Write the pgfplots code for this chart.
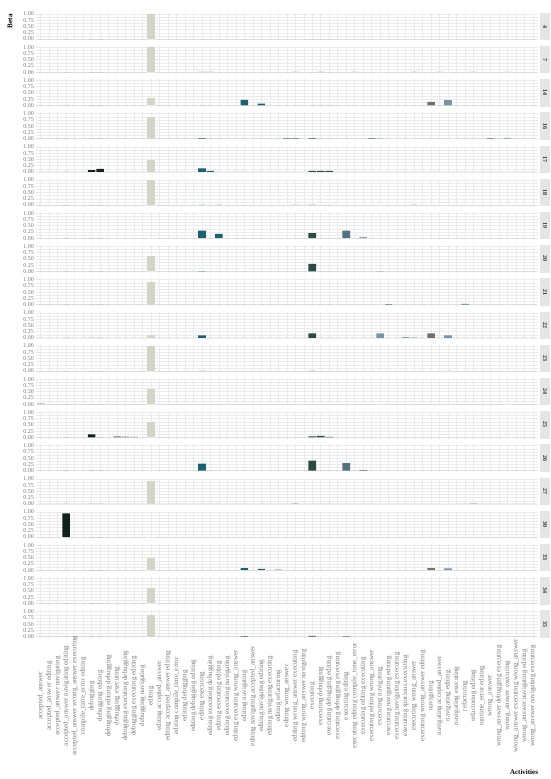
\documentclass[border=0pt]{standalone}
\usepackage{fontspec}
\setmainfont{Liberation Serif}
\usepackage{pgfplots}
\pgfplotsset{compat=1.18}
\usepackage{pgfplotstable}
\usepgfplotslibrary{groupplots}

\definecolor{gridc}{RGB}{235,235,235}
\definecolor{stripc}{RGB}{229,229,229}
\definecolor{labc}{RGB}{120,120,120}
\definecolor{cEdit}{RGB}{211,213,199}
\definecolor{cTeal}{RGB}{30,96,112}
\definecolor{cDark}{RGB}{18,32,28}
\definecolor{cSlate}{RGB}{42,74,68}
\definecolor{cBlue}{RGB}{82,112,126}
\definecolor{cGray}{RGB}{104,114,118}
\definecolor{cSteel}{RGB}{118,148,164}

% one row per activity; grp = colour group; one column per facet
\pgfplotstableread{
idx grp p4 p7 p14 p16 p17 p18 p19 p20 p21 p22 p23 p24 p25 p26 p27 p30 p33 p34 p35
0 5 0 0 0 0 0 0 0 0 0 0 0 0.02 0 0 0 0 0 0 0
1 5 0 0 0 0 0 0 0 0 0 0 0 0 0 0 0 0 0 0 0
2 5 0 0 0 0 0 0 0 0 0 0 0 0 0 0 0 0 0 0 0
3 3 0 0 0 0 0 0 0 0 0 0 0 0 0 0 0 0.95 0 0 0
4 5 0 0 0 0 0 0 0 0 0 0 0 0 0 0 0 0 0 0 0
5 5 0 0 0 0 0 0 0 0 0 0 0 0 0 0 0 0 0 0 0
6 3 0 0 0 0 0.07 0 0 0 0 0 0 0 0.12 0 0 0 0 0 0
7 3 0 0 0 0 0.12 0 0 0 0 0 0 0 0 0 0 0 0 0 0
8 5 0 0 0 0 0 0 0 0 0 0 0 0 0 0 0 0 0 0 0
9 6 0 0 0 0 0 0 0 0 0 0 0 0 0.04 0 0 0 0 0 0
10 6 0 0 0 0 0 0 0 0 0 0 0 0 0.03 0 0 0 0 0 0
11 6 0 0 0 0 0 0 0 0 0 0 0 0 0.02 0 0 0 0 0 0
12 5 0 0 0 0 0 0 0 0 0 0 0 0 0 0 0 0 0 0 0
13 1 1 1 0.30 0.87 0.49 1 0 0.6 0.9 0.12 1 0.6 0.6 0 0.9 0 0.5 0.6 0.85
14 5 0 0 0 0 0 0 0 0 0 0 0 0 0 0 0 0 0 0 0
15 5 0 0 0 0 0 0 0 0 0 0 0 0 0 0 0 0 0 0 0
16 5 0 0 0 0 0 0 0 0 0 0 0 0 0 0 0 0 0 0 0
17 5 0 0 0 0 0 0 0 0 0 0 0 0 0 0 0 0 0 0 0
18 5 0 0 0 0 0 0 0 0 0 0 0 0 0 0 0 0 0 0 0
19 2 0 0.01 0 0.02 0.14 0.01 0.30 0.01 0 0.10 0.01 0 0 0.28 0 0 0 0 0
20 2 0 0.01 0 0 0.04 0 0 0 0 0 0 0 0 0 0 0 0 0 0
21 2 0 0 0 0 0 0.01 0.17 0 0 0 0 0 0 0 0 0 0 0 0
22 5 0 0 0 0 0 0 0 0 0 0 0 0 0 0 0 0 0 0 0
23 5 0 0 0 0 0 0 0 0 0 0 0 0 0 0 0 0 0 0 0
24 2 0 0 0.22 0 0 0 0 0 0 0 0 0 0 0 0 0 0.08 0 0.02
25 5 0 0 0 0 0 0 0 0 0 0 0 0 0 0 0 0 0 0 0
26 2 0 0 0.07 0 0 0 0 0 0 0 0 0 0 0 0 0 0.05 0 0
27 5 0 0 0 0 0 0 0 0 0 0 0 0 0 0 0 0 0 0 0
28 5 0 0 0 0 0 0 0 0 0 0 0 0 0 0 0 0 0.02 0 0
29 5 0 0 0 0.02 0 0 0 0 0 0 0 0 0 0 0 0 0 0 0
30 5 0 0.01 0 0.02 0 0.01 0 0 0 0 0 0 0 0 0.01 0 0 0 0
31 5 0 0 0 0 0 0 0 0 0 0 0 0 0 0 0 0 0 0 0
32 4 0 0 0 0.02 0.04 0.01 0.20 0.30 0 0.18 0.01 0 0.04 0.40 0 0 0 0 0.03
33 4 0 0.01 0 0 0.04 0 0 0 0 0 0 0 0.06 0 0 0 0 0 0
34 4 0 0 0 0 0.04 0 0 0 0 0 0 0 0.02 0 0 0 0 0 0
35 5 0 0 0 0 0 0 0 0 0 0 0 0 0 0 0 0 0 0 0
36 5 0 0 0 0 0 0 0.30 0 0 0 0 0 0 0.30 0 0 0 0 0.02
37 5 0 0.01 0 0 0 0 0 0 0 0 0 0 0 0 0 0 0 0 0
38 5 0 0 0 0 0 0 0.03 0 0 0 0 0 0 0.02 0 0 0 0 0
39 5 0 0 0 0.02 0 0 0 0 0 0 0 0 0 0 0 0 0 0 0
40 7 0 0 0 0.01 0 0 0 0.01 0 0.18 0 0 0 0 0 0 0 0 0
41 5 0 0 0 0 0 0 0 0 0.02 0 0 0 0 0 0 0 0 0 0
42 5 0 0 0 0 0 0 0 0 0 0 0 0 0 0 0 0 0 0 0
43 5 0 0 0 0 0 0 0 0 0 0.02 0 0 0 0 0 0 0 0 0
44 5 0 0.01 0 0 0 0.01 0 0 0 0.01 0 0 0 0 0 0 0 0 0
45 5 0 0 0 0 0 0 0 0 0 0 0 0 0 0 0 0 0 0 0
46 6 0 0 0.14 0 0 0 0 0 0 0.18 0 0 0 0 0 0 0.08 0 0
47 5 0 0.01 0 0 0 0 0 0 0 0 0 0 0 0 0 0 0 0 0
48 7 0 0 0.21 0 0 0 0 0 0 0.10 0.01 0 0 0 0 0 0.07 0 0
49 5 0 0 0 0 0 0 0 0 0 0 0 0 0 0 0 0 0 0 0
50 5 0 0 0 0 0 0 0 0 0.03 0 0 0 0 0 0 0 0 0 0
51 5 0 0.01 0 0 0 0 0 0 0 0 0 0 0 0 0.01 0 0 0 0
52 5 0 0 0 0 0 0 0 0 0 0 0 0 0 0 0 0 0 0 0
53 5 0 0 0 0.02 0 0 0 0 0 0 0 0 0 0 0 0 0 0 0
54 5 0 0 0 0 0 0 0 0 0 0 0 0 0 0 0 0 0 0 0
55 7 0 0.01 0 0.03 0 0 0 0 0 0 0 0 0 0 0 0 0 0 0
56 5 0 0 0 0 0 0 0 0 0 0 0 0 0 0 0 0 0 0 0
57 5 0 0 0 0 0 0 0 0 0 0 0 0 0 0 0 0 0 0 0
58 5 0 0 0 0 0 0 0 0 0 0 0 0 0 0 0 0 0 0 0
}\bardata

\pgfplotsset{
  strip/.style={extra description/.code={
    \fill[stripc] (axis description cs:1.004,0) rectangle (axis description cs:1.024,1);
    \node[rotate=-90, font=\bfseries\fontsize{6}{6}\selectfont, text=black!80]
      at (axis description cs:1.014,0.5) {#1};
  }},
}

\newcommand\grp[3]{\addplot[fill=#1, restrict expr to domain={\thisrow{grp}}{#2:#2}] table[x=idx, y=#3] {\bardata};}
\newcommand\panel[2]{%
  \nextgroupplot[strip={#2}]
  \grp{cEdit}{1}{#1}\grp{cTeal}{2}{#1}\grp{cDark}{3}{#1}\grp{cSlate}{4}{#1}%
  \grp{cBlue}{5}{#1}\grp{cGray}{6}{#1}\grp{cSteel}{7}{#1}%
}

\begin{document}
\begin{tikzpicture}
\begin{groupplot}[
  group style={group size=1 by 19, vertical sep=5.7pt, xticklabels at=edge bottom},
  width=502.4pt, height=27.5pt, scale only axis,
  xmin=-0.6, xmax=58.6, ymin=-0.05, ymax=1.05,
  xtick={0,...,58},
  xticklabels={accepted\_answer, accepted\_answer editing, accepted\_answer navigating,
    accepted\_answer navigating editing, accepted\_answer wrong\_answer executing,
    compile\_time\_error editing, debugging, debugging editing, debugging editing debugging,
    debugging executing, debugging executing debugging, debugging executing editing,
    debugging navigating, editing, editing accepted\_answer, editing accepted\_answer editing,
    editing compile\_time\_error, editing debugging, editing debugging editing,
    editing executing, editing executing debugging, editing executing editing,
    editing executing navigating, editing executing wrong\_answer, editing navigating,
    editing navigating accepted\_answer, editing navigating editing, editing navigating executing,
    editing refactoring, editing wrong\_answer, editing wrong\_answer executing,
    editing wrong\_answer navigating, executing, executing debugging, executing debugging editing,
    executing debugging executing, executing editing, executing editing compile\_time\_error,
    executing editing executing, executing editing wrong\_answer, executing navigating,
    executing navigating editing, executing navigating executing, executing spurious executing,
    executing wrong\_answer, executing wrong\_answer editing, navigating,
    navigating accepted\_answer, navigating editing, navigating executing, refactoring,
    refactoring editing, runtime\_error editing, wrong\_answer, wrong\_answer debugging executing,
    wrong\_answer executing, wrong\_answer executing wrong\_answer,
    wrong\_answer navigating editing, wrong\_answer navigating executing},
  xticklabel style={font=\fontsize{7}{7}\selectfont, text=labc, rotate=90, anchor=center},
  xticklabel shift=58pt,
  ytick={0,0.25,0.5,0.75,1},
  minor ytick={0.125,0.375,0.625,0.875},
  yticklabel style={font=\fontsize{6}{6}\selectfont, text=labc, inner xsep=1.5pt,
    /pgf/number format/fixed, /pgf/number format/fixed zerofill,
    /pgf/number format/precision=2, /pgf/number format/assume math mode=true},
  grid=both,
  major grid style={gridc, line width=0.5pt},
  minor grid style={gridc, line width=0.3pt},
  axis line style={draw=none},
  major tick length=0pt, minor tick length=0pt,
  every axis plot/.append style={ybar, bar width=0.9, bar shift=0pt, draw=none},
]
\panel{p4}{4}
\coordinate (tl) at (rel axis cs:0,1);
\panel{p7}{7}
\panel{p14}{14}
\panel{p16}{16}
\panel{p17}{17}
\panel{p18}{18}
\panel{p19}{19}
\panel{p20}{20}
\panel{p21}{21}
\panel{p22}{22}
\panel{p23}{23}
\panel{p24}{24}
\panel{p25}{25}
\panel{p26}{26}
\panel{p27}{27}
\panel{p30}{30}
\panel{p33}{33}
\panel{p34}{34}
\panel{p35}{35}
\end{groupplot}
\node[rotate=90, font=\bfseries\fontsize{7.2}{7.2}\selectfont] at ([xshift=-25.6pt,yshift=-8.5pt]tl) {Beta};
\node[font=\bfseries\fontsize{7}{7}\selectfont] at ([xshift=488.4pt,yshift=-759.25pt]tl) {Activities};
\pgfresetboundingbox
\path[use as bounding box] ([xshift=-35.6pt,yshift=12.75pt]tl) rectangle ([xshift=514.4pt,yshift=-766.25pt]tl);
\end{tikzpicture}
\end{document}
